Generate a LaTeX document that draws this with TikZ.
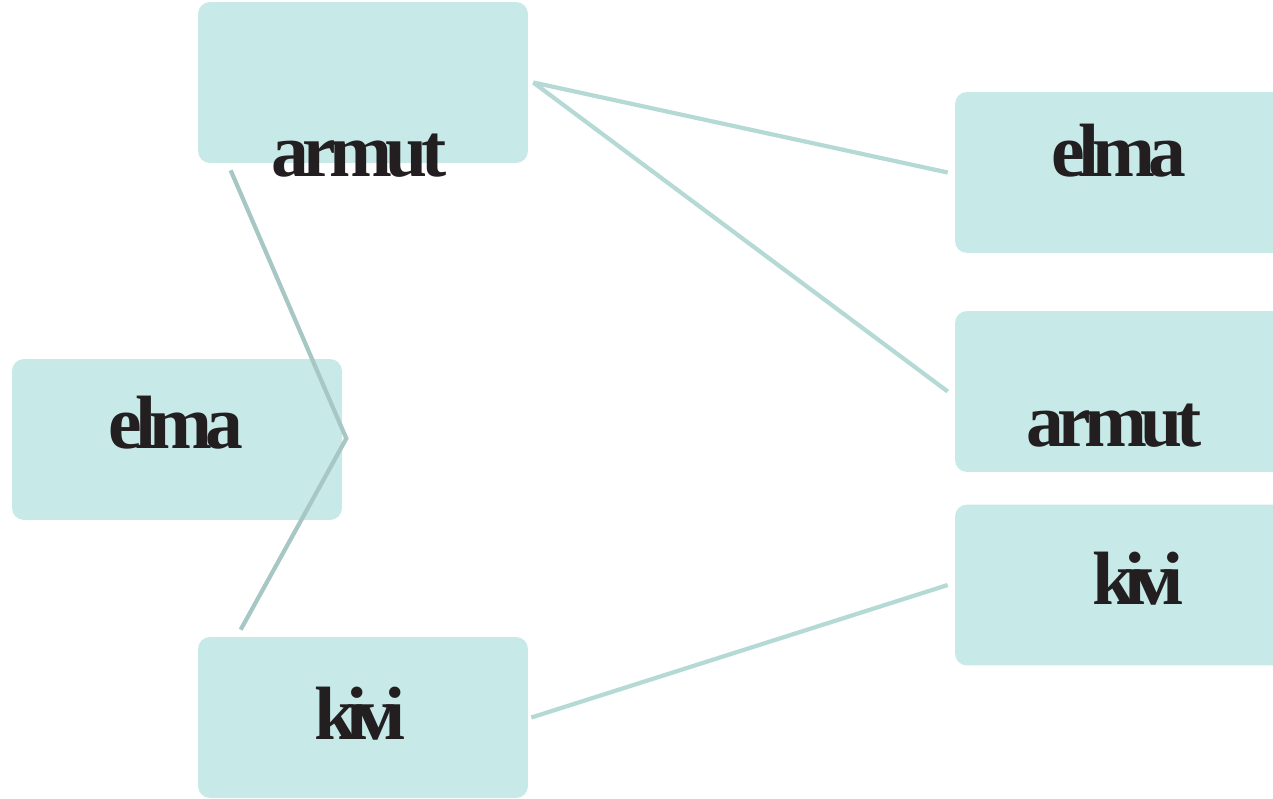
\documentclass[tikz,border=0pt]{standalone}
\usepackage{fontspec}
\setmainfont{Liberation Serif}
\newfontfamily\wordfont[LetterSpace=-9]{Liberation Serif}
\newfontfamily\tightfont[LetterSpace=-14]{Liberation Serif}
\definecolor{boxfill}{HTML}{C7EAE9}
\definecolor{linkcol}{HTML}{B5DAD6}
\definecolor{darklink}{HTML}{A7C7C4}
\definecolor{ink}{HTML}{231F20}

\begin{document}
\begin{tikzpicture}[x=0.02cm, y=-0.02cm,
            box/.style = {fill=boxfill, rounded corners=0.24cm, inner sep=0pt,
                          minimum width=6.6cm, minimum height=3.22cm},
            word/.style = {anchor=base, inner sep=0pt, text=ink,
                           font=\wordfont\bfseries\fontsize{43}{43}\selectfont},
            tightword/.style = {word, font=\tightfont\bfseries\fontsize{43}{43}\selectfont},
            link/.style = {draw=linkcol, line width=2.4pt},
            darkline/.style = {draw=darklink, line width=2.4pt},
            ]
    \useasboundingbox (0,0) rectangle (1273,798);

    % boxes
    \node[box] (armutA) at (363,82.5) {};
    \node[box] (elmaA) at (177,439.5) {};
    \node[box] (kiviA) at (363,717.5) {};
    \node[box] (elmaB) at (1120,172.5) {};
    \node[box] (armutB) at (1120,391.5) {};
    \node[box] (kiviB) at (1120,585) {};

    % words
    \node[word] (tarmutA) at (359,176) {armut};
    \node[word] (telmaA) at (176,448) {elma};
    \node[tightword] (tkiviA) at (360,739) {kivi};
    \node[word] (telmaB) at (1119,176) {elma};
    \node[word] (tarmutB) at (1114,446) {armut};
    \node[tightword] (tkiviB) at (1138,604) {kivi};

    % connectors
    \draw[link] ([shift={(5,0)}]armutA.east) -- ([shift={(-7,0)}]elmaB.west);
    \draw[link] ([shift={(5,0)}]armutA.east) -- ([shift={(-7,0)}]armutB.west);
    \draw[link] ([shift={(3,0)}]kiviA.east) -- ([shift={(-7,0)}]kiviB.west);
    \draw[darkline] ([shift={(33,7)}]armutA.south west)
        -- ([shift={(4,-1)}]elmaA.east)
        -- ([shift={(43,-7)}]kiviA.north west);
\end{tikzpicture}
\end{document}
